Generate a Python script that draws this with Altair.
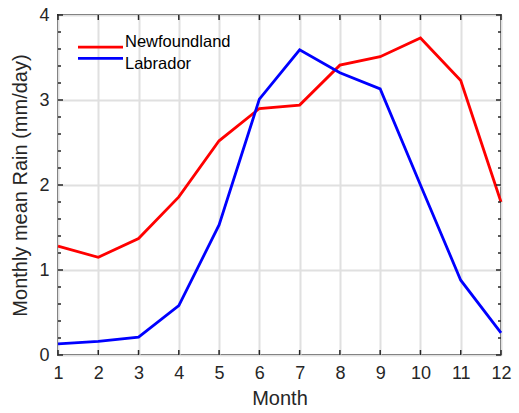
import altair as alt
import pandas as pd

# Monthly mean rainfall (mm/day) for the two regions
months = [1, 2, 3, 4, 5, 6, 7, 8, 9, 10, 11, 12]
newfoundland = [1.28, 1.15, 1.37, 1.86, 2.52, 2.90, 2.94, 3.41, 3.51, 3.73, 3.23, 1.80]
labrador = [0.13, 0.16, 0.21, 0.58, 1.53, 3.01, 3.59, 3.32, 3.13, 2.00, 0.88, 0.26]

series = ["Newfoundland", "Labrador"]
colors = ["#ff0000", "#0000ff"]

# Axis tick positions
y_major = [0, 1, 2, 3, 4]
y_minor = [0.2, 0.4, 0.6, 0.8, 1.2, 1.4, 1.6, 1.8, 2.2, 2.4, 2.6, 2.8,
           3.2, 3.4, 3.6, 3.8]

W, H = 443, 340
FONT = "Liberation Sans"
INK = "#262626"
LINE_W = 2.8

df = pd.DataFrame({
    "month": months * 2,
    "rain": newfoundland + labrador,
    "series": [series[0]] * len(months) + [series[1]] * len(months),
})

xs = alt.Scale(domain=[1, 12], nice=False, zero=False)
ys = alt.Scale(domain=[0, 4], nice=False, zero=False)
color = alt.Color("series:N", scale=alt.Scale(domain=series, range=colors), legend=None)

lines = alt.Chart(df).mark_line(strokeWidth=LINE_W).encode(
    x=alt.X("month:Q", scale=xs,
            axis=alt.Axis(values=months, title="Month", grid=True, ticks=False,
                          tickSize=0, domain=False, labelPadding=9, titlePadding=6,
                          labelFlush=False, orient="bottom")),
    y=alt.Y("rain:Q", scale=ys,
            axis=alt.Axis(values=y_major, title="Monthly mean Rain (mm/day)",
                          grid=True, ticks=False, tickSize=0, domain=False,
                          labelPadding=9, titlePadding=8, labelFlush=False,
                          orient="left")),
    color=color,
)

month_df = pd.DataFrame({"month": months})
major_df = pd.DataFrame({"v": y_major})
minor_df = pd.DataFrame({"v": y_minor})

tick_style = dict(color=INK, strokeWidth=1.5)
x_tick = alt.X("month:Q", scale=xs, axis=None)
y_tick = alt.Y("v:Q", scale=ys, axis=None)

# Inward-pointing ticks on all four sides of the box
ticks_bottom = alt.Chart(month_df).mark_rule(**tick_style).encode(
    x=x_tick, y=alt.value(H - 5), y2=alt.value(H))
ticks_top = alt.Chart(month_df).mark_rule(**tick_style).encode(
    x=x_tick, y=alt.value(0), y2=alt.value(5))
ticks_left = alt.Chart(major_df).mark_rule(**tick_style).encode(
    y=y_tick, x=alt.value(0), x2=alt.value(5))
ticks_right = alt.Chart(major_df).mark_rule(**tick_style).encode(
    y=y_tick, x=alt.value(W - 5), x2=alt.value(W))
minor_left = alt.Chart(minor_df).mark_rule(**tick_style).encode(
    y=y_tick, x=alt.value(0), x2=alt.value(3))
minor_right = alt.Chart(minor_df).mark_rule(**tick_style).encode(
    y=y_tick, x=alt.value(W - 3), x2=alt.value(W))

# Legend drawn in the upper-left corner of the plot
leg_df = pd.DataFrame({"series": series})
leg_y = alt.Y("series:N", scale=alt.Scale(domain=series, range=[26.5, 49], padding=0),
              axis=None)
legend_lines = alt.Chart(leg_df).mark_rule(strokeWidth=LINE_W).encode(
    x=alt.value(20), x2=alt.value(65), y=leg_y, color=color)
legend_text = alt.Chart(leg_df).mark_text(
    align="left", baseline="middle", font=FONT, fontSize=16.5, color="#000000"
).encode(x=alt.value(67), y=leg_y, text="series:N")

chart = alt.layer(
    lines, ticks_bottom, ticks_top, ticks_left, ticks_right, minor_left, minor_right,
    legend_lines, legend_text,
).resolve_scale(
    y="independent"
).resolve_axis(
    x="independent", y="independent"
).properties(
    width=W, height=H,
    autosize=alt.AutoSizeParams(type="none"),
    padding={"left": 58, "top": 15, "right": 18, "bottom": 58},
    background="white",
).configure_view(
    stroke=INK, strokeWidth=2,
).configure_axis(
    labelFont=FONT, labelFontSize=18, labelColor=INK,
    titleFont=FONT, titleFontSize=20, titleFontWeight="normal", titleColor=INK,
    gridColor="#e0e0e0", gridWidth=2,
)

chart.save("out.html", embed_options={"renderer": "svg", "actions": False})
